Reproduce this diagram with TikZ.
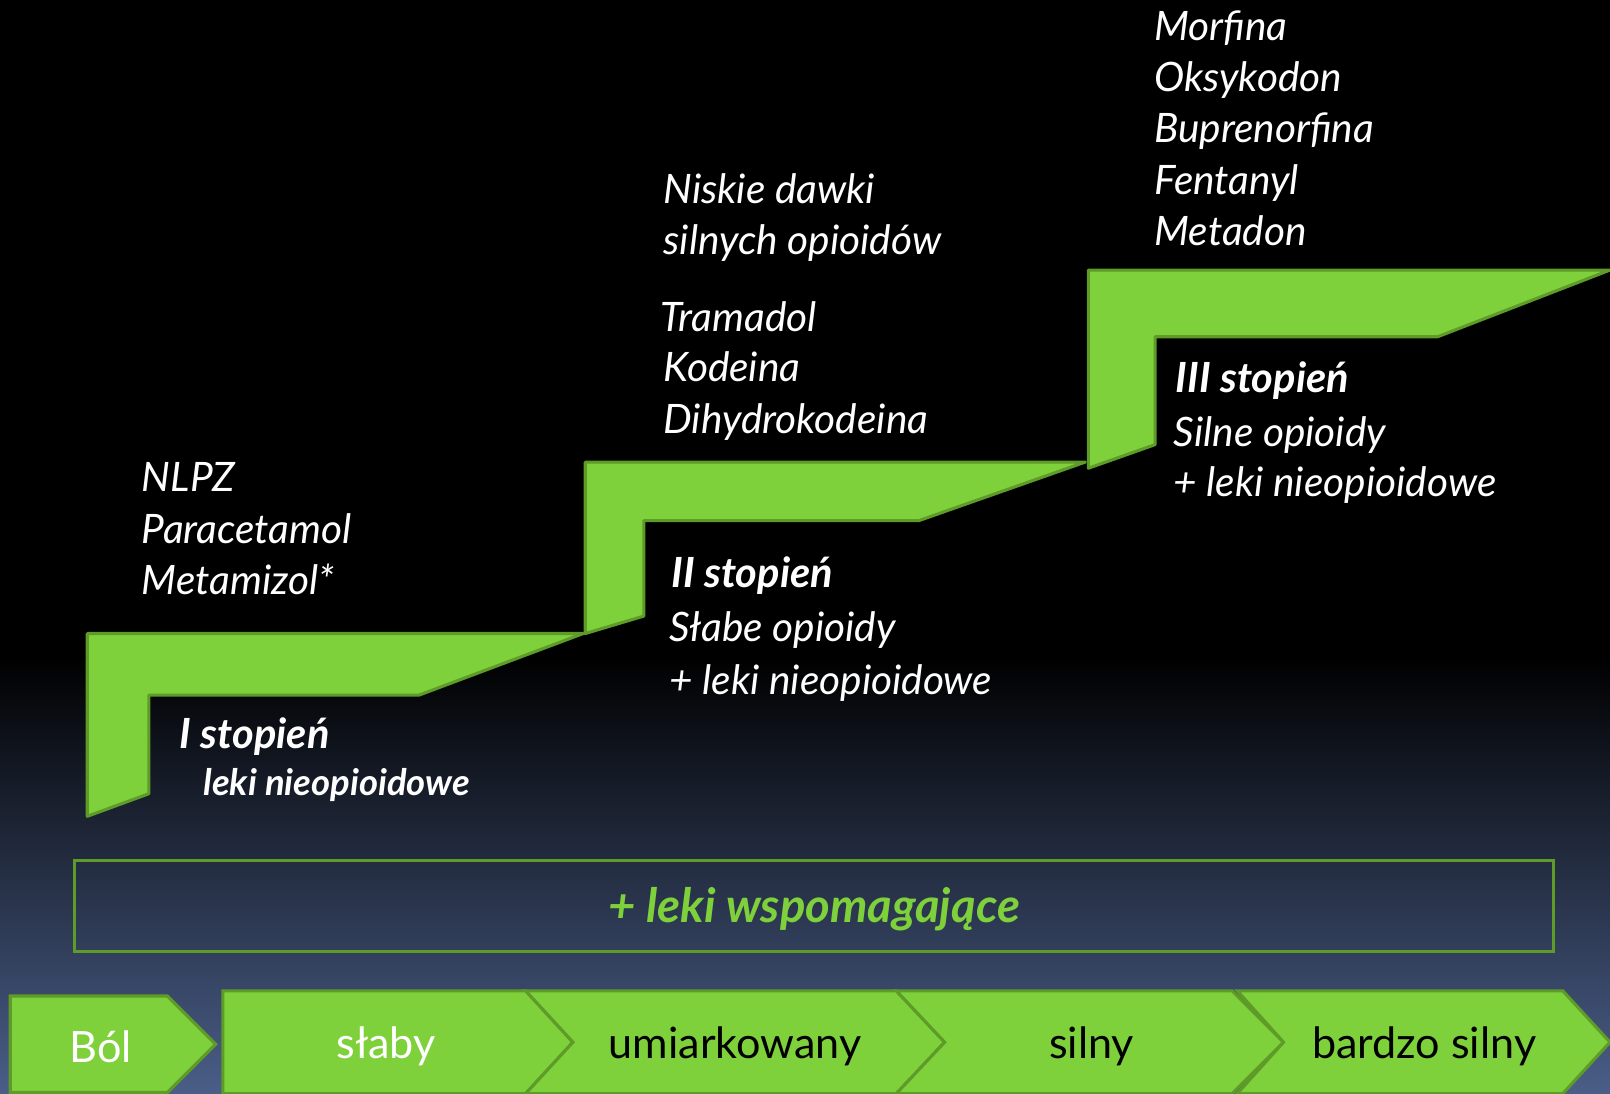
\documentclass[tikz,border=0pt]{standalone}
\usepackage{fontspec}
\setmainfont{Lato}
\definecolor{stepgreen}{RGB}{126,209,59}
\definecolor{stepedge}{RGB}{95,155,40}
\definecolor{bgbottom}{RGB}{74,94,136}
\begin{document}
\begin{tikzpicture}[x=1pt,y=-1pt,
  stepshape/.style={fill=stepgreen, draw=stepedge, line width=3pt, line join=round},
  chev/.style={fill=stepgreen, draw=stepedge, line width=3pt, line join=miter},
  listtxt/.style={anchor=base west, text=white, inner sep=0pt, font=\fontsize{39.5}{46}\selectfont\itshape},
  headtxt/.style={anchor=base west, text=white, inner sep=0pt, font=\fontsize{40.5}{46}\selectfont\bfseries\itshape},
  subtxt/.style={anchor=base west, text=white, inner sep=0pt, font=\fontsize{35.5}{40}\selectfont\bfseries\itshape},
  chevtxt/.style={anchor=base, inner sep=0pt, font=\fontsize{42}{50}\selectfont}
]
\useasboundingbox (0,0) rectangle (1568,1065);
\fill[black] (0,0) rectangle (1568,640);
\shade[top color=black, bottom color=bgbottom] (0,639) rectangle (1568,1065);

% steps
\draw[stepshape] (85,617) -- (568,617) -- (408,677) -- (145,677) -- (145,773) -- (85,795) -- cycle;
\draw[stepshape] (570,450) -- (1057,450) -- (895,507) -- (627,507) -- (627,600) -- (570,617) -- cycle;
\draw[stepshape] (1060,263) -- (1568,263) -- (1400,328) -- (1125,328) -- (1125,433) -- (1060,456) -- cycle;

% step I texts
\node[listtxt] (nlpz) at (138,479) {NLPZ};
\node[listtxt] (para) at (138,529) {Paracetamol};
\node[listtxt] (meta) at (138,579) {Metamizol*};
\node[headtxt] (s1) at (175,729) {I stopień};
\node[subtxt] (s1b) at (198,775) {leki nieopioidowe};

% step II texts
\node[listtxt] (nisk) at (646,198) {Niskie dawki};
\node[listtxt] (siln) at (646,248) {silnych opioidów};
\node[listtxt] (tram) at (643,323) {Tramadol};
\node[listtxt] (kode) at (646,372) {Kodeina};
\node[listtxt] (dihy) at (646,422) {Dihydrokodeina};
\node[headtxt] (s2) at (654,572) {II stopień};
\node[listtxt] (s2b) at (652,625) {Słabe opioidy};
\node[listtxt] (s2c) at (652,676) {+ leki nieopioidowe};

% step III texts
\node[listtxt] (morf) at (1124,39) {Morfina};
\node[listtxt] (oksy) at (1124,89) {Oksykodon};
\node[listtxt] (bupr) at (1124,139) {Buprenorfina};
\node[listtxt] (fent) at (1124,189) {Fentanyl};
\node[listtxt] (meth) at (1124,239) {Metadon};
\node[headtxt] (s3) at (1145,382) {III stopień};
\node[listtxt] (s3b) at (1143,435) {Silne opioidy};
\node[listtxt] (s3c) at (1143,484) {+ leki nieopioidowe};

% adjuvant box
\draw[draw=stepedge, line width=3pt] (73,838) rectangle (1513,927);
\node[anchor=base, inner sep=0pt, text=stepgreen, font=\fontsize{46}{52}\selectfont\bfseries\itshape] (wsp) at (793,898) {+ leki wspomagające};

% chevrons
\draw[chev] (10,970) -- (163,970) -- (210,1017) -- (163,1064) -- (10,1064) -- cycle;
\draw[chev] (217,965) -- (512,965) -- (558,1015) -- (512,1065) -- (217,1065) -- cycle;
\draw[chev] (512,965) -- (873,965) -- (920,1015) -- (873,1065) -- (512,1065) -- (558,1015) -- cycle;
\draw[chev] (873,965) -- (1200,965) -- (1250,1015) -- (1200,1065) -- (873,1065) -- (920,1015) -- cycle;
\draw[chev] (1205,965) -- (1522,965) -- (1568,1015) -- (1522,1065) -- (1205,1065) -- (1250,1015) -- cycle;

\node[chevtxt, text=white] (bol) at (98,1035) {Ból};
\node[chevtxt, text=white] (slaby) at (376,1031) {słaby};
\node[chevtxt, text=black] (umiar) at (716,1031) {umiarkowany};
\node[chevtxt, text=black] (silny) at (1063,1031) {silny};
\node[chevtxt, text=black] (bsilny) at (1387,1031) {bardzo silny};
\end{tikzpicture}
\end{document}
